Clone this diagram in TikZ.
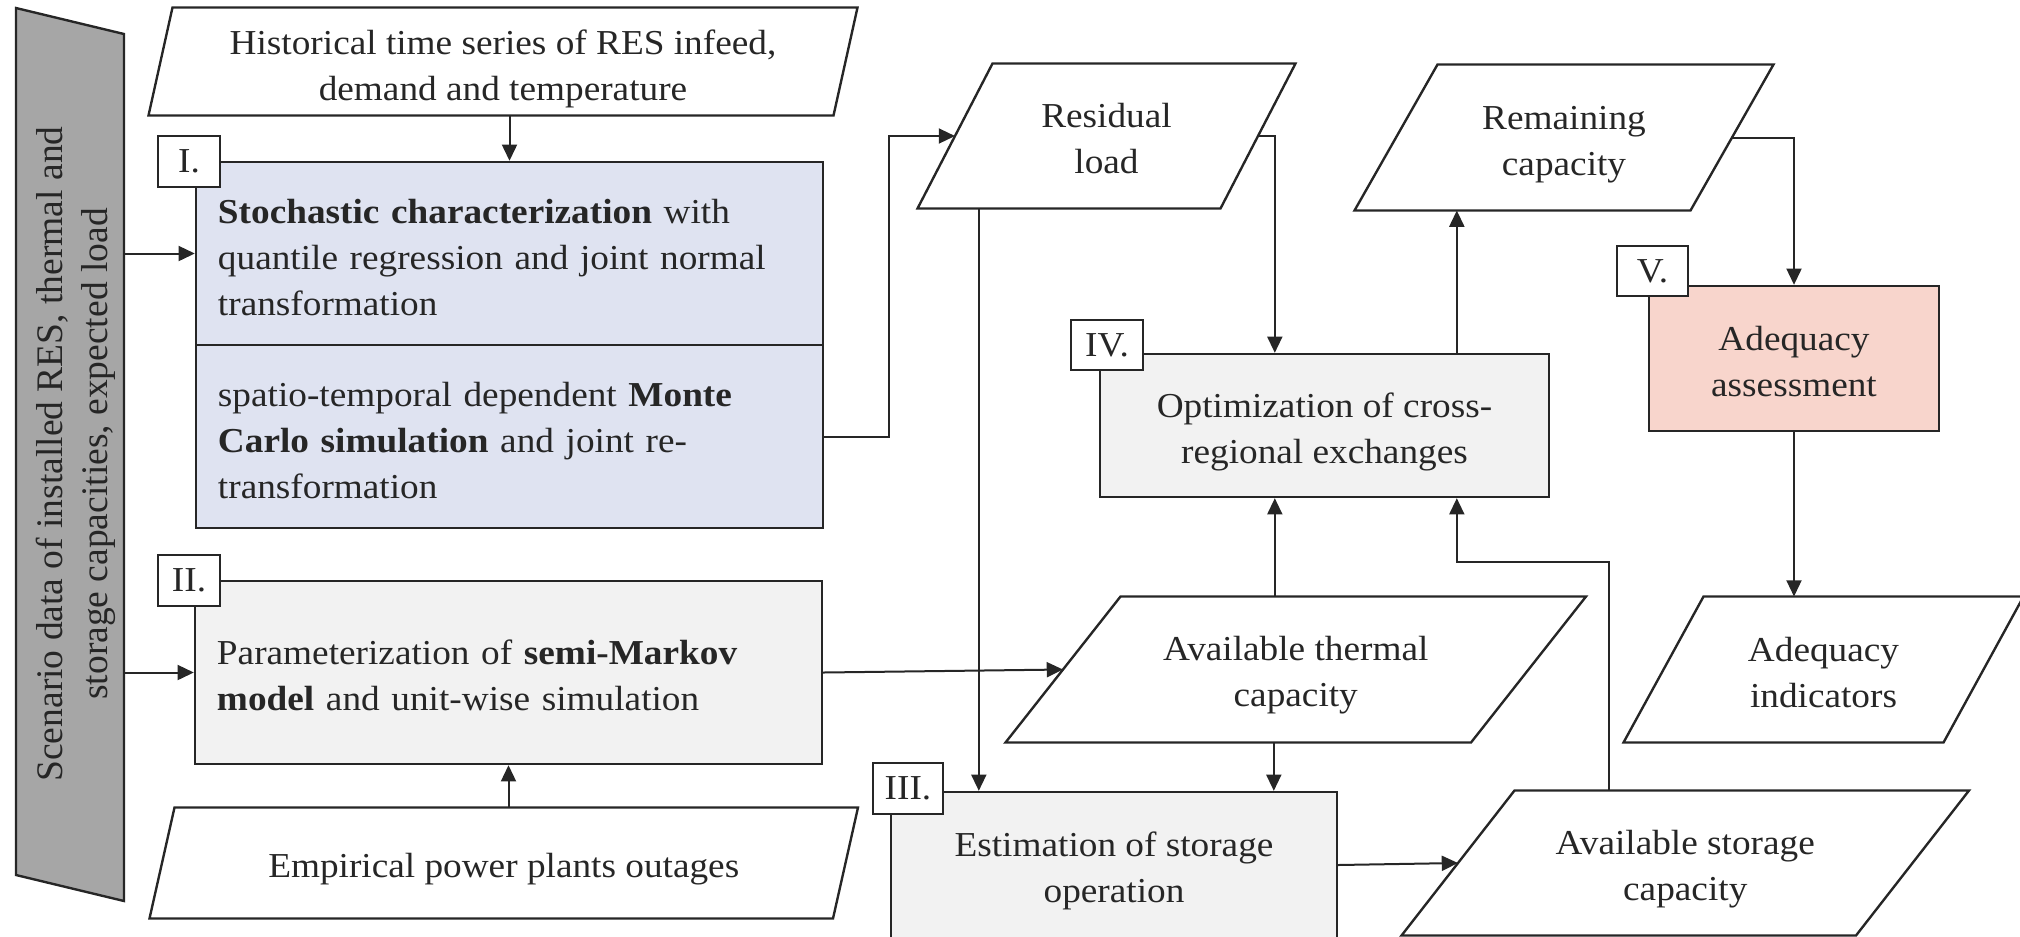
\documentclass[tikz,border=0pt]{standalone}
\usepackage{fontspec}
\setmainfont{Liberation Serif}[FakeStretch=1.065]
\newfontfamily\bannerface{Liberation Serif}
\usetikzlibrary{arrows.meta,calc}

\definecolor{ink}{HTML}{262626}
\definecolor{lavender}{HTML}{DFE3F1}
\definecolor{panel}{HTML}{F2F2F2}
\definecolor{blush}{HTML}{F8D5CC}
\definecolor{banner}{HTML}{A6A6A6}

% data item: #1 name, #2 cx, #3 cy, #4 mid width, #5 height, #6 slant, #7 text drop, #8 text
\newcommand\dataitem[8]{%
  \node[size={#4}{#5}, inner sep=0pt] (#1) at (#2,#3) {};
  \draw[frame] ($(#1.north west)+(#6/2,0)$) -- ($(#1.north east)+(#6/2,0)$)
    -- ($(#1.south east)-(#6/2,0)$) -- ($(#1.south west)-(#6/2,0)$) -- cycle;
  \node[txt, align=center, inner sep=0pt] (#1-text) at (#2,#3+#7) {#8};}

% process step: #1 name, #2 fill, #3 cx, #4 cy, #5 width, #6 height, #7 text drop, #8 text
\newcommand\step[8]{%
  \node[frame, fill=#2, size={#5}{#6}, inner sep=0pt] (#1) at (#3,#4) {};
  \node[txt, align=center, inner sep=0pt] (#1-text) at (#3,#4+#7) {#8};}

% process step with flush-left text
\newcommand\leftstep[8]{%
  \node[frame, fill=#2, size={#5}{#6}, inner sep=0pt] (#1) at (#3,#4) {};
  \node[txt, align=left, text width=233.2pt, inner sep=0pt] (#1-text) at (#3,#4+#7) {#8};}

\begin{document}
\begin{tikzpicture}[x=0.4pt,y=-0.4pt,
  txt/.style={font=\fontsize{14}{18.4}\selectfont, text=ink},
  frame/.style={draw=ink, line width=0.95pt},
  conn/.style={draw=ink, line width=0.8pt, -{Triangle[length=6.5pt,width=6pt]}},
  size/.style 2 args={minimum width=#1*0.4pt, minimum height=#2*0.4pt},
  tag/.style={frame, txt, fill=white, inner sep=0pt},
]
\useasboundingbox (0,0) rectangle (2020,936);

% scenario banner on the left
\filldraw[frame, fill=banner] (16,8) -- (124,34) -- (124,901) -- (16,875) -- cycle;
\node[size={108}{841}, inner sep=0pt] (scen) at (70,454.5) {};
\node[rotate=90, align=center, font=\bannerface\fontsize{15}{18}\selectfont, text=ink] (scentext) at (76,454)
  {Scenario data of installed RES, thermal and\\storage capacities, expected load};

% input data
\dataitem{hist}{503}{61.5}{684}{107}{24}{7}{Historical time series of RES infeed,\\demand and temperature}
\dataitem{emp}{503.75}{863}{682.5}{110}{25}{6}{Empirical power plants outages}

% stage I
\leftstep{Itop}{lavender}{509.5}{253.5}{627}{183}{4}
  {\textbf{Stochastic characterization} with\\quantile regression and joint normal\\transformation}
\leftstep{Ibot}{lavender}{509.5}{436.5}{627}{183}{4}
  {spatio-temporal dependent \textbf{Monte}\\\textbf{Carlo simulation} and joint re-\\transformation}
\node[tag, size={62}{51}] (tagI) at (189,161.5) {I.};

% stage II
\leftstep{II}{panel}{508.5}{672.5}{627}{183}{3}
  {Parameterization of \textbf{semi-Markov}\\\textbf{model} and unit-wise simulation}
\node[tag, size={62}{51}] (tagII) at (189,580.5) {II.};

% intermediate results
\dataitem{res}{1106.5}{136}{302}{144}{75}{3}{Residual\\load}
\dataitem{rem}{1564}{137.5}{335}{145}{83}{7}{Remaining\\capacity}
\dataitem{therm}{1295.75}{669.5}{464.5}{145}{115}{6}{Available thermal\\capacity}
\dataitem{ind}{1823.5}{669.5}{319}{145}{80}{3}{Adequacy\\indicators}
\dataitem{stor}{1685.25}{863}{453.5}{144}{113}{6}{Available storage\\capacity}

% stages III to V
\step{III}{panel}{1114}{865}{446}{146}{6}{Estimation of storage\\operation}
\node[tag, size={70}{51}] (tagIII) at (908,788.5) {III.};
\step{IV}{panel}{1324.5}{425.5}{449}{143}{6}{Optimization of cross-\\regional exchanges}
\node[tag, size={72}{50}] (tagIV) at (1107,345) {IV.};
\step{V}{blush}{1794}{358.5}{290}{145}{3}{Adequacy\\assessment}
\node[tag, size={71}{50}] (tagV) at (1652.5,271) {V.};

% bend points
\coordinate (k1) at (889,136);
\coordinate (k2) at (1609,562);
\coordinate (xa) at ($(IV.north west)+(176,0)$);
\coordinate (xb) at ($(IV.north west)+(358,0)$);
\coordinate (xc) at ($(III.north west)+(89,0)$);
\coordinate (xd) at ($(III.north west)+(384,0)$);

% connectors
\draw[conn] (scen.east |- Itop.west) -- (Itop.west);
\draw[conn] (scen.east |- II.west) -- (II.west);
\draw[conn] (hist.south -| Itop.north) -- (Itop.north);
\draw[conn] (emp.north -| II.south) -- (II.south);
\draw[conn] (Ibot.east) -| (k1) -- (res.west);
\draw[conn] (II.east) -- (therm.west);
\draw[conn] (res.east) -| (xa);
\draw[conn] (xc |- res.south) -- (xc);
\draw[conn] (xb) -- (xb |- rem.south);
\draw[conn] (rem.east) -| (V.north);
\draw[conn] (V.south) -- (V.south |- ind.north);
\draw[conn] (xa |- therm.north) -- (xa |- IV.south);
\draw[conn] (k2 |- stor.north) -- (k2) -| (xb |- IV.south);
\draw[conn] (xd |- therm.south) -- (xd);
\draw[conn] (III.east) -- (stor.west);
\end{tikzpicture}
\end{document}
